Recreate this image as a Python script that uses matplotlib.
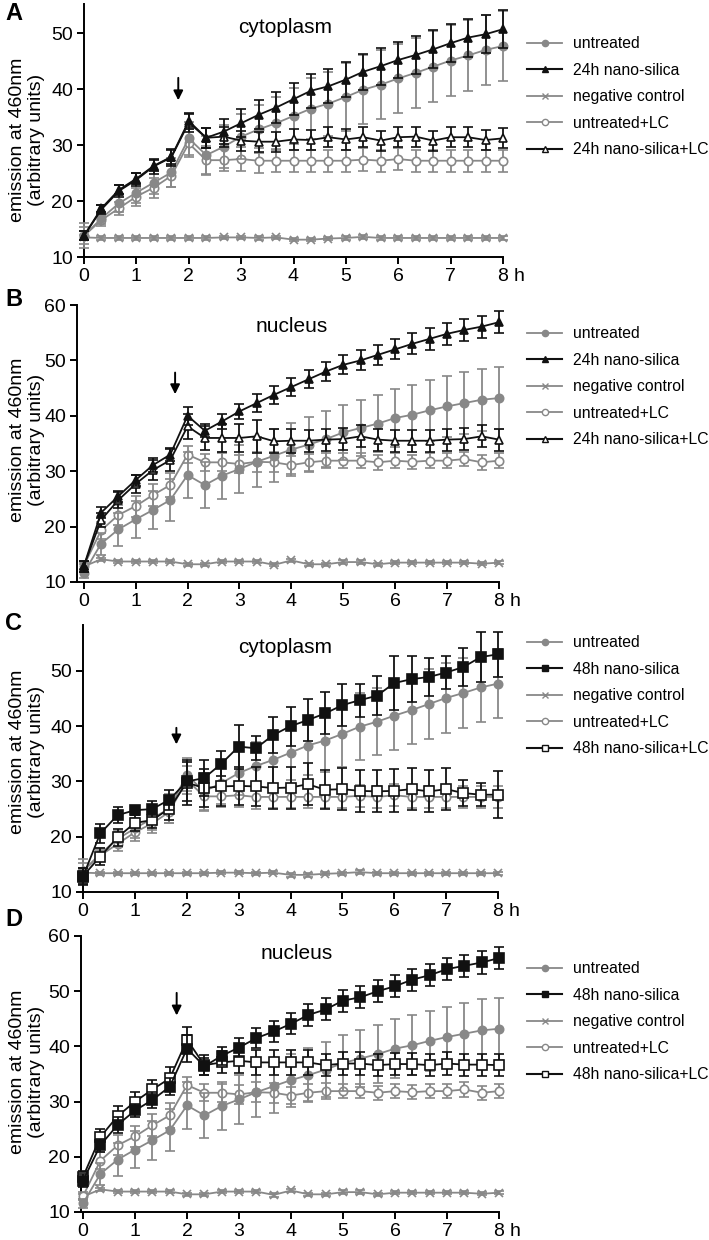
import matplotlib
matplotlib.use("Agg")
import matplotlib.pyplot as plt
from matplotlib.lines import Line2D
import numpy as np

plt.rcParams['font.family'] = ['Liberation Sans', 'DejaVu Sans']

GREY = "#888888"
BLACK = "#111111"

hours = [0, 0.333, 0.667, 1, 1.333, 1.667, 2, 2.333, 2.667, 3, 3.333, 3.667, 4,
         4.333, 4.667, 5, 5.333, 5.667, 6, 6.333, 6.667, 7, 7.333, 7.667, 8]
xtick_labels = ["0", "1", "2", "3", "4", "5", "6", "7", "8"]

# cytoplasm (shared by A and C)
untreated_cyto = [13.8, 16.9, 19.6, 21.5, 23.3, 25.1, 31.2, 28.2, 29.7, 31.5, 32.8, 33.9, 35.2,
                  36.5, 37.4, 38.6, 39.9, 40.8, 41.9, 42.9, 44.0, 45.1, 46.0, 47.0, 47.7]
untreated_cyto_sd = [2.2, 1.0, 1.5, 1.8, 2.1, 2.6, 3.0, 3.4, 3.8, 4.0, 4.3, 4.6, 5.0,
                     5.4, 5.7, 6.0, 6.1, 6.1, 6.2, 6.2, 6.3, 6.3, 6.3, 6.3, 6.3]
neg_cyto = [13.5, 13.4, 13.4, 13.4, 13.4, 13.4, 13.4, 13.4, 13.5, 13.5, 13.4, 13.5, 13.1,
            13.1, 13.3, 13.4, 13.6, 13.4, 13.4, 13.4, 13.4, 13.4, 13.4, 13.4, 13.4]
neg_cyto_sd = [0.4, 0.3, 0.3, 0.3, 0.3, 0.3, 0.3, 0.3, 0.3, 0.3, 0.3, 0.3, 0.3,
               0.3, 0.3, 0.3, 0.3, 0.3, 0.3, 0.3, 0.3, 0.3, 0.3, 0.3, 0.3]
lc_cyto = [13.8, 16.6, 18.7, 20.8, 22.4, 24.5, 30.3, 27.3, 27.3, 27.5, 27.2, 27.2, 27.2,
           27.2, 27.2, 27.2, 27.4, 27.2, 27.5, 27.2, 27.2, 27.2, 27.2, 27.2, 27.2]
lc_cyto_sd = [1.5, 1.0, 1.2, 1.6, 1.8, 2.0, 2.5, 2.6, 2.0, 2.2, 2.2, 2.0, 2.0,
              2.0, 2.0, 2.0, 2.0, 2.0, 2.0, 2.0, 2.0, 2.0, 2.0, 2.0, 2.0]

# nucleus (shared by B and D)
untreated_nuc = [11.6, 16.9, 19.5, 21.3, 23.0, 24.8, 29.3, 27.5, 29.2, 30.4, 31.7, 32.8, 33.9,
                 34.8, 35.8, 37.0, 37.8, 38.6, 39.6, 40.2, 41.0, 41.7, 42.3, 42.9, 43.2]
untreated_nuc_sd = [0.8, 2.0, 3.0, 3.3, 3.5, 3.8, 4.2, 4.1, 4.3, 4.4, 4.5, 4.8, 4.8,
                    4.9, 5.0, 5.0, 5.1, 5.2, 5.3, 5.4, 5.5, 5.5, 5.6, 5.6, 5.6]
neg_nuc = [12.8, 14.1, 13.7, 13.7, 13.7, 13.7, 13.2, 13.2, 13.7, 13.7, 13.7, 13.1, 13.9,
           13.2, 13.2, 13.6, 13.6, 13.2, 13.5, 13.5, 13.5, 13.5, 13.5, 13.3, 13.5]
neg_nuc_sd = [0.4, 0.3, 0.3, 0.3, 0.3, 0.3, 0.3, 0.3, 0.3, 0.3, 0.3, 0.3, 0.3,
              0.3, 0.3, 0.3, 0.3, 0.3, 0.3, 0.3, 0.3, 0.3, 0.3, 0.3, 0.3]
lc_nuc = [12.9, 19.3, 22.1, 23.7, 25.7, 27.5, 33.0, 31.6, 31.6, 31.3, 31.7, 31.6, 31.1,
          31.6, 31.9, 31.9, 31.9, 31.6, 31.9, 31.7, 31.9, 31.9, 32.2, 31.6, 31.9]
lc_nuc_sd = [0.8, 1.5, 1.8, 1.9, 2.0, 2.2, 1.5, 1.5, 1.6, 1.7, 1.8, 1.8, 1.6,
             1.5, 1.4, 1.3, 1.3, 1.3, 1.3, 1.3, 1.3, 1.3, 1.3, 1.3, 1.3]

# A: 24h nano-silica, cytoplasm
nano24_cyto = [13.8, 18.7, 22.0, 24.0, 26.3, 27.9, 34.3, 31.3, 32.4, 33.9, 35.4, 36.7, 38.2,
               39.7, 40.5, 41.7, 43.1, 44.1, 45.2, 46.1, 47.1, 48.2, 49.2, 49.8, 50.7]
nano24_cyto_sd = [0.8, 0.6, 0.8, 1.0, 1.0, 1.2, 1.4, 1.8, 2.2, 2.5, 2.6, 2.7, 2.8,
                  3.0, 3.0, 3.2, 3.2, 3.3, 3.3, 3.4, 3.4, 3.4, 3.4, 3.4, 3.4]
nano24lc_cyto = [13.8, 18.5, 21.8, 23.8, 26.2, 27.8, 34.0, 31.3, 31.5, 30.8, 30.6, 30.6, 31.0,
                 30.9, 31.4, 31.0, 31.4, 30.8, 31.4, 31.5, 30.8, 31.4, 31.4, 30.9, 31.2]
nano24lc_cyto_sd = [0.8, 0.8, 1.0, 1.2, 1.3, 1.5, 1.6, 1.8, 1.8, 1.8, 1.8, 1.8, 1.8,
                    1.8, 1.8, 1.8, 1.8, 1.8, 1.8, 1.8, 1.8, 1.8, 1.8, 1.8, 1.8]

# B: 24h nano-silica, nucleus
nano24_nuc = [12.8, 22.5, 25.5, 28.4, 31.1, 33.0, 40.0, 37.3, 39.0, 40.8, 42.3, 43.8, 45.2,
              46.6, 48.0, 49.2, 50.0, 51.0, 52.0, 53.0, 53.9, 54.8, 55.5, 56.1, 56.9]
nano24_nuc_sd = [1.0, 1.0, 1.0, 1.0, 1.2, 1.2, 1.6, 1.2, 1.4, 1.4, 1.6, 1.6, 1.6,
                 1.6, 1.7, 1.7, 1.8, 1.8, 1.8, 1.9, 2.0, 2.0, 2.0, 2.0, 2.0]
nano24lc_nuc = [12.8, 21.2, 24.8, 27.7, 30.2, 32.0, 38.1, 36.0, 36.0, 36.0, 36.3, 35.4, 35.5,
                35.5, 35.7, 35.8, 36.3, 35.7, 35.5, 35.5, 35.5, 35.7, 35.8, 36.3, 35.7]
nano24lc_nuc_sd = [1.0, 1.2, 1.4, 1.6, 1.8, 2.0, 2.2, 2.2, 2.5, 2.5, 3.0, 2.2, 2.2,
                   2.0, 2.0, 2.0, 2.0, 2.0, 2.0, 2.0, 2.0, 2.0, 2.0, 2.0, 2.0]

# C: 48h nano-silica, cytoplasm
nano48_cyto = [12.8, 20.6, 23.9, 24.8, 25.0, 26.7, 30.0, 30.6, 33.2, 36.3, 36.0, 38.4, 40.0,
               41.1, 42.3, 43.8, 44.7, 45.5, 47.8, 48.5, 48.9, 49.7, 50.7, 52.5, 53.0]
nano48_cyto_sd = [1.5, 1.7, 1.5, 0.8, 1.5, 1.8, 3.5, 3.2, 2.3, 4.0, 2.2, 3.2, 3.5,
                  3.8, 3.8, 3.8, 3.0, 3.5, 4.9, 4.2, 3.5, 3.0, 3.5, 4.6, 4.1]
nano48lc_cyto = [12.9, 16.4, 19.9, 22.5, 23.0, 25.1, 29.8, 28.8, 29.1, 29.2, 29.1, 28.8, 28.9,
                 29.5, 28.5, 28.6, 28.3, 28.2, 28.3, 28.6, 28.2, 28.6, 27.9, 27.6, 27.6]
nano48lc_cyto_sd = [1.5, 1.5, 1.5, 1.5, 1.5, 2.0, 4.0, 3.5, 3.5, 3.5, 3.5, 3.8, 3.8,
                    3.8, 3.5, 3.8, 3.8, 3.8, 3.9, 3.8, 3.8, 3.8, 2.4, 2.1, 4.2]

# D: 48h nano-silica, nucleus
nano48_nuc = [15.7, 22.1, 25.8, 28.4, 30.3, 32.7, 39.6, 36.4, 38.3, 39.8, 41.5, 42.7, 44.1,
              45.7, 46.7, 48.3, 48.9, 50.0, 50.9, 52.1, 52.9, 54.0, 54.6, 55.2, 56.0]
nano48_nuc_sd = [1.2, 1.2, 1.5, 1.2, 1.4, 1.5, 2.5, 1.5, 1.6, 1.8, 1.8, 1.9, 1.9,
                 2.0, 2.0, 2.0, 2.0, 2.0, 2.0, 2.0, 2.0, 2.0, 2.0, 2.0, 2.0]
nano48lc_nuc = [16.4, 23.6, 27.4, 30.0, 32.2, 34.2, 41.2, 36.6, 37.1, 37.4, 37.1, 37.1, 37.1,
                37.1, 36.6, 36.9, 36.9, 36.6, 36.8, 36.8, 36.6, 36.9, 36.7, 36.7, 36.6]
nano48lc_nuc_sd = [1.0, 1.5, 1.8, 1.7, 1.8, 2.0, 2.4, 1.8, 2.0, 2.3, 2.3, 2.3, 2.2,
                   2.2, 2.0, 2.0, 2.0, 2.0, 2.0, 2.0, 2.0, 2.0, 2.0, 2.0, 2.0]

W, H = 709, 1240
fig = plt.figure(figsize=(W / 100, H / 100), dpi=100)


def px_axes(left, right, top, bottom):
    return fig.add_axes([left / W, 1 - bottom / H, (right - left) / W, (bottom - top) / H])


def series(ax, y, sd, color, marker, mfc, ms, z):
    ax.errorbar(hours, y, yerr=sd, color=color, marker=marker, mfc=mfc, mec=color,
                ms=ms, mew=1.2, lw=1.3, elinewidth=1.3, capsize=3.8, capthick=1.3,
                clip_on=False, zorder=z)


panels = [
    dict(letter="A", box=(84, 503, 4, 257), xlim=(0, 8), ylim=(10, 55.2), yticks=[10, 20, 30, 40, 50],
         title="cytoplasm", tpos=(3.84, 51.0), arrow=(1.8, 42.5, 37.5), legend_top=36, treat="24h",
         data=[untreated_cyto, untreated_cyto_sd, neg_cyto, neg_cyto_sd, lc_cyto, lc_cyto_sd,
               nano24_cyto, nano24_cyto_sd, nano24lc_cyto, nano24lc_cyto_sd], mk="^", label_y=140),
    dict(letter="B", box=(77, 499, 305, 582), xlim=(-0.13, 8), ylim=(10, 60), yticks=[10, 20, 30, 40, 50, 60],
         title="nucleus", tpos=(4.0, 56.1), arrow=(1.76, 48.3, 43.4), legend_top=326, treat="24h",
         data=[untreated_nuc, untreated_nuc_sd, neg_nuc, neg_nuc_sd, lc_nuc, lc_nuc_sd,
               nano24_nuc, nano24_nuc_sd, nano24lc_nuc, nano24lc_nuc_sd], mk="^", label_y=440),
    dict(letter="C", box=(83, 498, 625, 892), xlim=(0, 8), ylim=(10, 58.3), yticks=[10, 20, 30, 40, 50],
         title="cytoplasm", tpos=(3.9, 54.2), arrow=(1.8, 40.2, 36.2), legend_top=635, treat="48h",
         data=[untreated_cyto, untreated_cyto_sd, neg_cyto, neg_cyto_sd, lc_cyto, lc_cyto_sd,
               nano48_cyto, nano48_cyto_sd, nano48lc_cyto, nano48lc_cyto_sd], mk="s", label_y=752),
    dict(letter="D", box=(81, 499, 936, 1212), xlim=(-0.04, 8), ylim=(10, 60), yticks=[10, 20, 30, 40, 50, 60],
         title="nucleus", tpos=(4.1, 56.9), arrow=(1.8, 50.2, 45.1), legend_top=961, treat="48h",
         data=[untreated_nuc, untreated_nuc_sd, neg_nuc, neg_nuc_sd, lc_nuc, lc_nuc_sd,
               nano48_nuc, nano48_nuc_sd, nano48lc_nuc, nano48lc_nuc_sd], mk="s", label_y=1072),
]

letter_y = {"A": 14, "B": 300, "C": 623, "D": 920}

for p in panels:
    ax = px_axes(*p["box"])
    left, right, top, bottom = p["box"]
    u, usd, n, nsd, lc, lcsd, tr, trsd, trlc, trlcsd = p["data"]
    mk = p["mk"]
    tms = 6.5 if mk == "s" else 6.3
    series(ax, n, nsd, GREY, "x", GREY, 6, 3)
    series(ax, lc, lcsd, GREY, "o", "white", 6, 4)
    series(ax, u, usd, GREY, "o", GREY, 6, 5)
    series(ax, trlc, trlcsd, BLACK, mk, "white", tms, 6)
    series(ax, tr, trsd, BLACK, mk, BLACK, tms, 7)

    ax.set_xlim(*p["xlim"])
    ax.set_ylim(*p["ylim"])
    ax.set_xticks(range(9), labels=xtick_labels)
    ax.set_yticks(p["yticks"])
    for s in ["top", "right"]:
        ax.spines[s].set_visible(False)
    for s in ["left", "bottom"]:
        ax.spines[s].set_linewidth(1.4)
    ax.tick_params(direction="out", length=5, width=1.4, labelsize=14, pad=3)
    ax.annotate("h", xy=(8, 0), xycoords=("data", "axes fraction"), xytext=(7.5, -8.0),
                textcoords="offset points", ha="left", va="top", fontsize=14)
    ax.set_ylabel("emission at 460nm\n(arbitrary units)", fontsize=14, linespacing=1.15)
    ax.yaxis.set_label_coords((45 - left) / (right - left), (bottom - p["label_y"]) / (bottom - top))

    ax.text(*p["tpos"], p["title"], ha="center", va="center", fontsize=15)
    ax_x, y0, y1 = p["arrow"]
    ax.annotate("", xy=(ax_x, y1), xytext=(ax_x, y0),
                arrowprops=dict(arrowstyle="-|>", color="black", lw=1.4, mutation_scale=14))

    fig.text(5 / W, 1 - letter_y[p["letter"]] / H, p["letter"], fontsize=17, fontweight="bold",
             ha="left", va="center")

    handles = [
        Line2D([], [], color=GREY, marker="o", mfc=GREY, mec=GREY, ms=4.5, lw=1.3),
        Line2D([], [], color=BLACK, marker=mk, mfc=BLACK, mec=BLACK, ms=4.5, lw=1.5),
        Line2D([], [], color=GREY, marker="x", mfc=GREY, mec=GREY, ms=4.5, lw=1.3),
        Line2D([], [], color=GREY, marker="o", mfc="white", mec=GREY, ms=4.5, lw=1.3),
        Line2D([], [], color=BLACK, marker=mk, mfc="white", mec=BLACK, ms=4.5, lw=1.5),
    ]
    labels = ["untreated", p["treat"] + " nano-silica", "negative control",
              "untreated+LC", p["treat"] + " nano-silica+LC"]
    fig.legend(handles, labels, loc="upper left", bbox_to_anchor=(527 / W, 1 - p["legend_top"] / H),
               bbox_transform=fig.transFigure, frameon=False, fontsize=11.3, borderpad=0,
               borderaxespad=0, handlelength=2.25, handletextpad=0.7, labelspacing=0.74)

fig.savefig("out.png", dpi=100)
